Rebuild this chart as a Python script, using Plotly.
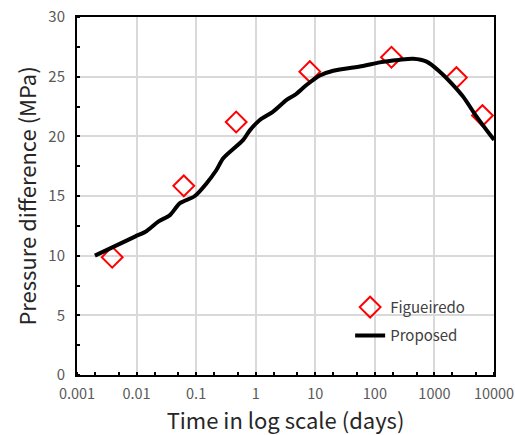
import plotly.graph_objects as go

# Figueiredo data
fig_t = [0.0039, 0.062, 0.47, 8.1, 190, 2340, 6400]
fig_p = [9.87, 15.85, 21.2, 25.42, 26.63, 24.92, 21.74]

# Proposed model curve
prop_t = [0.002, 0.0094, 0.0148, 0.0231, 0.0363, 0.0535, 0.095, 0.15, 0.219, 0.285,
          0.617, 0.796, 1.17, 1.96, 3.3, 4.55, 7.1, 11.9, 20.0, 63, 121, 250, 440,
          740, 1230, 2060, 3030, 5100, 10000]
prop_p = [10.0, 11.6, 12.07, 12.85, 13.4, 14.4, 15.0, 16.07, 17.18, 18.16,
          19.7, 20.5, 21.37, 22.07, 23.05, 23.47, 24.3, 25.1, 25.5, 25.9, 26.2, 26.4, 26.5,
          26.26, 25.42, 24.3, 23.33, 21.65, 19.7]

x_ticks = [0.001, 0.01, 0.1, 1, 10, 100, 1000, 10000]
x_labels = ["0.001", "0.01", "0.1", "1", "10", "100", "1000", "10000"]
y_ticks = [0, 5, 10, 15, 20, 25, 30]

FONT = "Noto Sans CJK SC"

fig = go.Figure()
fig.add_trace(go.Scatter(
    x=fig_t, y=fig_p, mode="markers", name="Figueiredo", legendgroup="a",
    marker=dict(symbol="diamond-open", size=16, color="#ff0000", line=dict(width=2, color="#ff0000")),
))
fig.add_trace(go.Scatter(
    x=prop_t, y=prop_p, mode="lines", name="Proposed", legendgroup="b",
    line=dict(color="black", width=4, shape="spline", smoothing=0.8),
))

fig.update_layout(
    width=515, height=435,
    margin=dict(l=77, r=21, t=17, b=60),
    paper_bgcolor="white", plot_bgcolor="white",
    font=dict(family=FONT, color="#595959"),
    showlegend=True,
    legend=dict(x=0.655, y=0.235, xanchor="left", yanchor="top",
                bgcolor="rgba(0,0,0,0)", font=dict(size=15, color="#404040"),
                traceorder="grouped", tracegroupgap=6),
    xaxis=dict(
        type="log", range=[-3, 4], automargin=False,
        tickvals=x_ticks, ticktext=x_labels,
        tickfont=dict(size=14.5, color="#595959"), ticklabelstandoff=5,
        showgrid=True, gridcolor="#d9d9d9", gridwidth=1.5,
        showline=True, linecolor="black", linewidth=2, mirror=True,
        ticks="", zeroline=False,
        minor=dict(ticks="inside", ticklen=3, tickcolor="black", tickwidth=1.5, showgrid=False),
        title=dict(text="Time in log scale (days)", font=dict(size=22, color="#262626"), standoff=0),
    ),
    yaxis=dict(
        range=[0, 30], tickvals=y_ticks, automargin=False,
        tickfont=dict(size=15, color="#595959"), ticklabelstandoff=7,
        showgrid=True, gridcolor="#d9d9d9", gridwidth=1.5,
        showline=True, linecolor="black", linewidth=2, mirror=True,
        ticks="", zeroline=False,
        minor=dict(ticks="inside", ticklen=3, tickcolor="black", tickwidth=1.5, dtick=2.5, showgrid=False),
        title=dict(text="Pressure difference (MPa)", font=dict(size=22, color="#262626"), standoff=6),
    ),
)

fig.write_html("out.html")
